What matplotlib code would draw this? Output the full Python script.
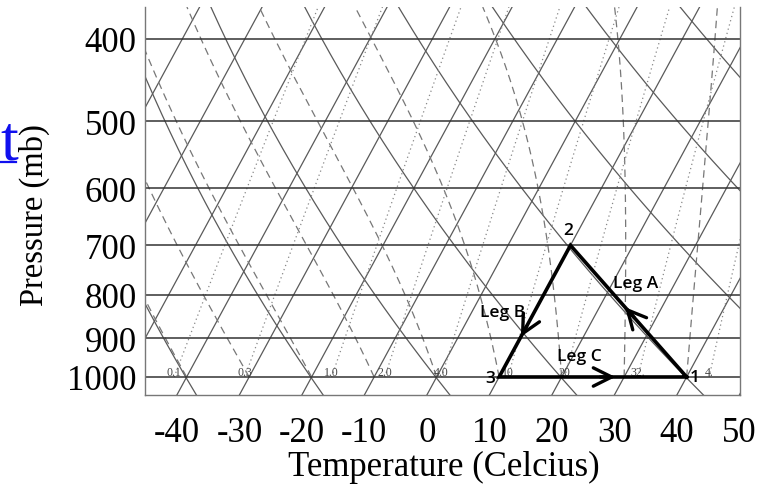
import numpy as np
import matplotlib
matplotlib.use('Agg')
import matplotlib.pyplot as plt
from matplotlib.lines import Line2D
from matplotlib.ticker import NullLocator, NullFormatter

# isobars / y tick labels (mb)
pressures = [400, 500, 600, 700, 800, 900, 1000]
# x tick labels (deg C, read at the bottom edge)
temp_ticks = [-40, -30, -20, -10, 0, 10, 20, 30, 40, 50]

# background lines of the diagram
isotherms = list(range(-80, 60, 10))                      # deg C
dry_thetas = [213, 233, 253, 273, 293, 313, 333, 353, 373, 393]   # K
moist_t1000 = [-40, -30, -20, -10, 0, 10, 20, 30, 40]    # deg C at 1000 mb
mix_labels = ['0.1', '0.3', '1.0', '2.0', '4.0', '10', '20', '32.', '4.']
mix_td1000 = [-42.0, -30.7, -16.8, -8.3, 0.8, 11.4, 20.5, 32.2, 43.6]  # deg C at 1000 mb

# the cycle 1 -> 2 -> 3 -> 1
cycle_T = [40, 10, 10, 40]
cycle_p = [1000, 700, 1000, 1000]
point_names = ['1', '2', '3']

SKEW = 32.0
P_BOT, P_TOP = 1050.0, 367.0


def skew_x(T, p):
    return np.asarray(T) + SKEW * np.log(P_BOT / np.asarray(p))


def es(tc):
    return 6.112 * np.exp(17.67 * tc / (tc + 243.5))


def moist_profile(t0, p):
    # pseudo-adiabat integrated from 1000 mb with RK2
    Rd, cp, Lv, eps = 287.04, 1005.7, 2.501e6, 0.622

    def dTdp(T, pp):
        e = es(T - 273.15)
        rs = eps * e / (pp - e)
        return (Rd * T + Lv * rs) / (cp + Lv ** 2 * rs * eps / (Rd * T ** 2)) / pp

    T = [t0 + 273.15]
    for i in range(1, len(p)):
        dp = p[i] - p[i - 1]
        k1 = dTdp(T[-1], p[i - 1])
        k2 = dTdp(T[-1] + dp * k1, p[i])
        T.append(T[-1] + 0.5 * dp * (k1 + k2))
    return np.array(T) - 273.15


fig = plt.figure(figsize=(7.69, 4.85), dpi=100)
ax = fig.add_axes([145 / 769, 89 / 485, 595 / 769, 388 / 485])
ax.set_yscale('log')

p_full = np.geomspace(P_BOT, P_TOP, 200)
p_up = np.geomspace(1000, P_TOP, 200)

for p in pressures:
    ax.axhline(p, color='#333333', lw=1.1, zorder=2)

for t in isotherms:
    ax.plot(skew_x(np.full_like(p_full, t), p_full), p_full, color='#5a5a5a', lw=0.9, zorder=1)

for th in dry_thetas:
    tc = th * (p_full / 1000.0) ** 0.286 - 273.15
    ax.plot(skew_x(tc, p_full), p_full, color='#5a5a5a', lw=0.9, zorder=1)

for t0 in moist_t1000:
    tc = moist_profile(t0, p_up)
    ax.plot(skew_x(tc, p_up), p_up, color='#777777', lw=0.9, dashes=(6, 4), zorder=1)

for lab, td in zip(mix_labels, mix_td1000):
    e0 = es(td)
    w = 622.0 * e0 / (1000.0 - e0)
    e = w * p_up / (622.0 + w)
    le = np.log(e / 6.112)
    tdp = 243.5 * le / (17.67 - le)
    ax.plot(skew_x(tdp, p_up), p_up, color='#888888', lw=0.9, dashes=(1, 2.5), zorder=1)
    ax.text(skew_x(td, 1000), 1002, lab, fontsize=8.5, family='Liberation Serif',
            color='#444444', ha='center', va='bottom', zorder=3)

# thermodynamic cycle
cx = skew_x(cycle_T, cycle_p)
ax.plot(cx, cycle_p, color='black', lw=2.6, zorder=5, solid_joinstyle='miter')


def along(a, b, t):
    x = cx[a] + t * (cx[b] - cx[a])
    p = np.exp(np.log(cycle_p[a]) + t * (np.log(cycle_p[b]) - np.log(cycle_p[a])))
    return x, p


arrow_style = dict(arrowstyle='->,head_length=1.1,head_width=0.55', lw=2.4, color='black',
                   mutation_scale=12, shrinkA=0, shrinkB=0)
# Leg A (1 -> 2), Leg B (2 -> 3), Leg C (3 -> 1)
for a, b, t in [(0, 1, 0.53), (1, 2, 0.695), (2, 3, 0.62)]:
    ax.annotate('', xy=along(a, b, t), xytext=along(a, b, t - 0.08),
                arrowprops=arrow_style, zorder=6)

lab_font = dict(family='Open Sans', fontsize=12.5, weight='semibold', color='black', zorder=7)
ax.text(skew_x(29.5, 1000) + 2.4, 775, 'Leg A', ha='center', va='center', **lab_font)
ax.text(skew_x(10, 1000) + 0.6, 838, 'Leg B', ha='center', va='center', **lab_font)
ax.text(skew_x(10, 1000) + 12.8, 944, 'Leg C', ha='center', va='center', **lab_font)
ax.text(cx[0] + 1.3, 1001, point_names[0], ha='center', va='center', **lab_font)
ax.text(cx[1] - 0.3, 671, point_names[1], ha='center', va='center', **lab_font)
ax.text(cx[2] - 1.4, 1003, point_names[2], ha='center', va='center', **lab_font)

ax.set_xlim(-45.1, 50.1)
ax.set_ylim(P_BOT, P_TOP)
ax.set_xticks(temp_ticks)
ax.set_xticklabels([str(t) for t in temp_ticks])
ax.yaxis.set_minor_locator(NullLocator())
ax.yaxis.set_minor_formatter(NullFormatter())
ax.set_yticks(pressures)
ax.set_yticklabels([str(p) for p in pressures])
ax.tick_params(length=0, labelsize=25)
ax.tick_params(axis='x', pad=15)
ax.tick_params(axis='y', pad=6)
for lbl in ax.get_xticklabels() + ax.get_yticklabels():
    lbl.set_family('Liberation Serif')
ax.spines['top'].set_visible(False)
for s in ['left', 'right', 'bottom']:
    ax.spines[s].set_color('#777777')
    ax.spines[s].set_linewidth(1.0)

fig.text(444 / 769, 1 - 467 / 485, 'Temperature (Celcius)', family='Liberation Serif',
         fontsize=25, ha='center', va='center')
fig.text(34 / 769, 1 - 215 / 485, 'Pressure (mb)', family='Liberation Serif',
         fontsize=23.5, ha='center', va='center', rotation=90)

# cut-off blue link text on the far left
fig.text(0.5 / 769, 1 - 160 / 485, 't', family='Liberation Serif', fontsize=46,
         color='#1010ee', ha='left', va='baseline')
fig.add_artist(Line2D([0, 16 / 769], [1 - 163 / 485, 1 - 163 / 485], color='#1010ee', lw=1.6))

fig.savefig('out.png', dpi=100)
